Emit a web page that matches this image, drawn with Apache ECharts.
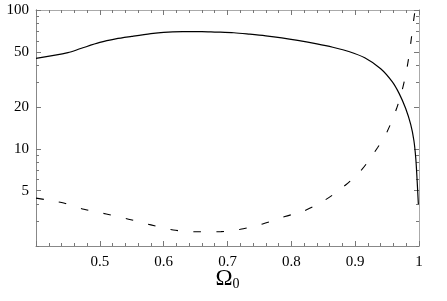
<!DOCTYPE html>
<html>
<head>
<meta charset="utf-8">
<script src="https://cdn.jsdelivr.net/npm/echarts@6/dist/echarts.min.js"></script>
<style>
  html, body { margin: 0; padding: 0; background: #fff; }
  #chart { width: 447px; height: 301px; }
</style>
</head>
<body>
<div id="chart"></div>
<script>
// solid curve
const solidX = [0.40, 0.45, 0.47, 0.50, 0.525, 0.55, 0.58, 0.60, 0.63, 0.66, 0.68, 0.71, 0.735, 0.76, 0.785, 0.81, 0.84, 0.865, 0.89, 0.915, 0.94, 0.958, 0.969, 0.979, 0.987, 0.992, 0.995, 0.997, 0.999]
const solidY = [44.9, 49.3, 52.8, 58.4, 61.9, 64.5, 67.5, 69.0, 69.8, 69.9, 69.4, 68.6, 67.0, 65.2, 63.0, 60.4, 57.0, 53.9, 50.3, 45.3, 37.8, 30.5, 25.0, 19.6, 15.0, 11.5, 8.5, 6.0, 4.0]
// dashed curve
const dashX = [0.40, 0.44, 0.475, 0.51, 0.545, 0.58, 0.615, 0.65, 0.69, 0.72, 0.755, 0.79, 0.82, 0.855, 0.885, 0.91, 0.935, 0.95, 0.965, 0.975, 0.982, 0.987, 0.992, 0.994]
const dashY = [4.42, 4.11, 3.68, 3.40, 3.12, 2.84, 2.61, 2.53, 2.54, 2.64, 2.88, 3.26, 3.58, 4.35, 5.5, 7.06, 10.2, 13.3, 19.6, 28.1, 40.2, 57.5, 87, 100]

const yMajor = [5, 10, 20, 50, 100]
const yMinor = [2, 3, 4, 6, 7, 8, 9, 30, 40, 60, 70, 80, 90]

const font = "'Liberation Serif', 'DejaVu Serif', serif"
const chart = echarts.init(document.getElementById('chart'))

function yAxisDef(pos, values, len, labels, color) {
  return {
    type: 'log', min: 2, max: 100, position: pos,
    axisLine: { show: true, lineStyle: { color: color, width: 1 } },
    axisTick: { show: true, inside: true, length: len, customValues: values, lineStyle: { color: '#777' } },
    axisLabel: labels
      ? { show: true, customValues: yMajor, color: '#000', fontFamily: font, fontSize: 15, margin: 7 }
      : { show: false },
    splitLine: { show: false }
  }
}

function xAxisDef(pos, labels, color) {
  return {
    type: 'value', min: 0.4, max: 1, interval: 0.1, position: pos,
    axisLine: { show: true, onZero: false, lineStyle: { color: color, width: 1 } },
    axisTick: { show: true, inside: true, length: 5, lineStyle: { color: '#777' } },
    minorTick: { show: true, splitNumber: 5, length: 3, lineStyle: { color: '#777' } },
    axisLabel: labels
      ? { show: true, showMinLabel: false, color: '#000', fontFamily: font, fontSize: 15, margin: 9,
          formatter: (v) => String(Math.round(v * 10) / 10) }
      : { show: false },
    splitLine: { show: false },
    name: labels ? '{a|Ω}{b|0}' : '',
    nameLocation: 'middle',
    nameGap: 21,
    nameMoveOverlap: false,
    nameTextStyle: {
      rich: {
        a: { fontFamily: font, fontSize: 23, color: '#000' },
        b: { fontFamily: font, fontSize: 14, color: '#000', padding: [10, 0, 0, 0] }
      }
    }
  }
}

chart.setOption({
  backgroundColor: '#fff',
  animation: false,
  grid: { left: 36, right: 28, top: 10, bottom: 55 },
  xAxis: [xAxisDef('bottom', true, '#888'), xAxisDef('top', false, '#aaa')],
  yAxis: [
    yAxisDef('left', yMajor, 5, true, '#888'),
    yAxisDef('left', yMinor, 3, false, '#888'),
    yAxisDef('right', yMajor, 5, false, '#aaa'),
    yAxisDef('right', yMinor, 3, false, '#aaa')
  ],
  series: [
    {
      type: 'line', xAxisIndex: 0, yAxisIndex: 0, showSymbol: false, smooth: 0.3,
      data: solidX.map((x, i) => [x, solidY[i]]),
      lineStyle: { color: '#000', width: 1.2 }
    },
    {
      type: 'line', xAxisIndex: 0, yAxisIndex: 0, showSymbol: false, smooth: 0.3,
      data: dashX.map((x, i) => [x, dashY[i]]),
      lineStyle: { color: '#000', width: 1.1, type: [8, 15] }
    }
  ]
})
</script>
</body>
</html>
